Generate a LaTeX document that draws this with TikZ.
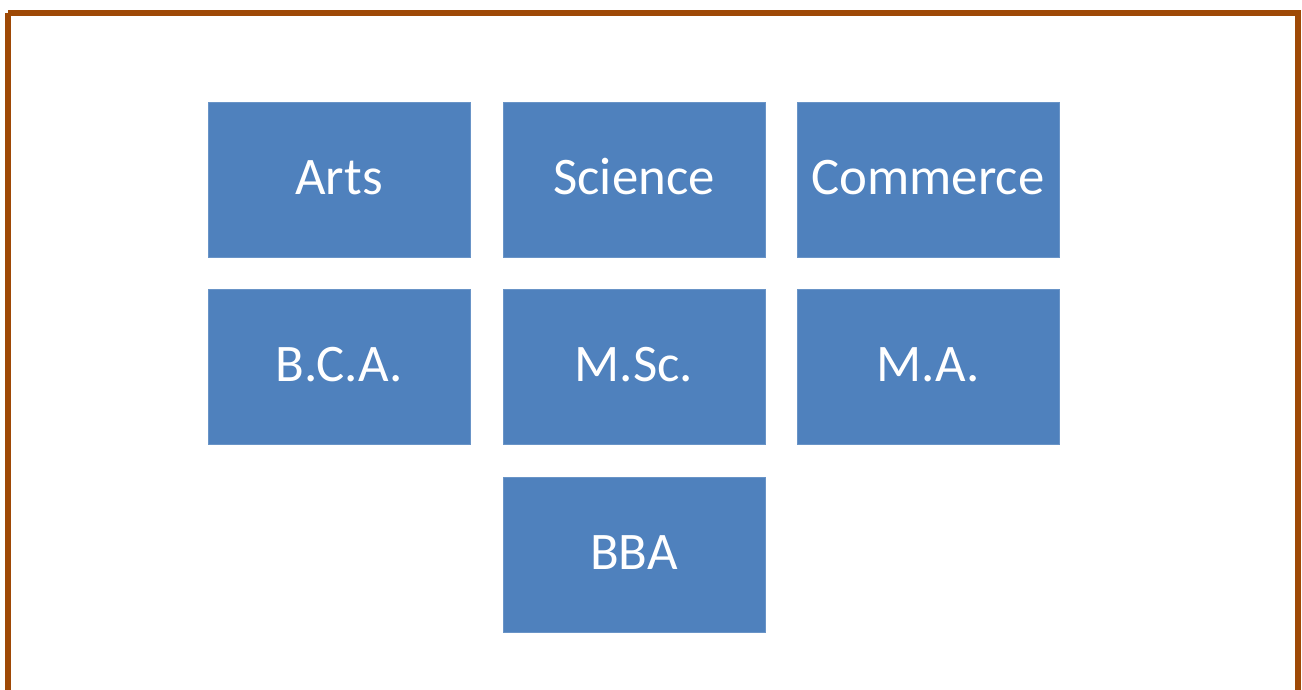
\documentclass[tikz,border=0pt]{standalone}
\usepackage{fontspec}
\setmainfont{Carlito}
\definecolor{framebrown}{RGB}{158,73,6}
\definecolor{boxblue}{RGB}{79,129,189}
\begin{document}
\begin{tikzpicture}[x=1pt,y=-1pt,
  cbox/.style={fill=boxblue, draw=boxblue!85!white, line width=0.8pt, minimum width=262pt, minimum height=155pt,
    inner sep=0pt, text=white, font=\fontsize{52.8pt}{60pt}\selectfont, text height=34pt, text depth=5pt}]
\useasboundingbox (0,0) rectangle (1302,689);
\fill[white] (0,0) rectangle (1302,689);
\draw[framebrown, line width=6pt] (8,12.5) -- (1298,12.5) -- (1298,720) (8,720) -- (8,12.5);
\node[cbox] (arts) at (339,179.5) {Arts};
\node[cbox] (science) at (634,179.5) {Science};
\node[cbox] (commerce) at (928,179.5) {Commerce};
\node[cbox] (bca) at (339,367) {B.C.A.};
\node[cbox] (msc) at (634,367) {M.Sc.};
\node[cbox] (ma) at (928,367) {M.A.};
\node[cbox] (bba) at (634,554.5) {BBA};
\end{tikzpicture}
\end{document}
